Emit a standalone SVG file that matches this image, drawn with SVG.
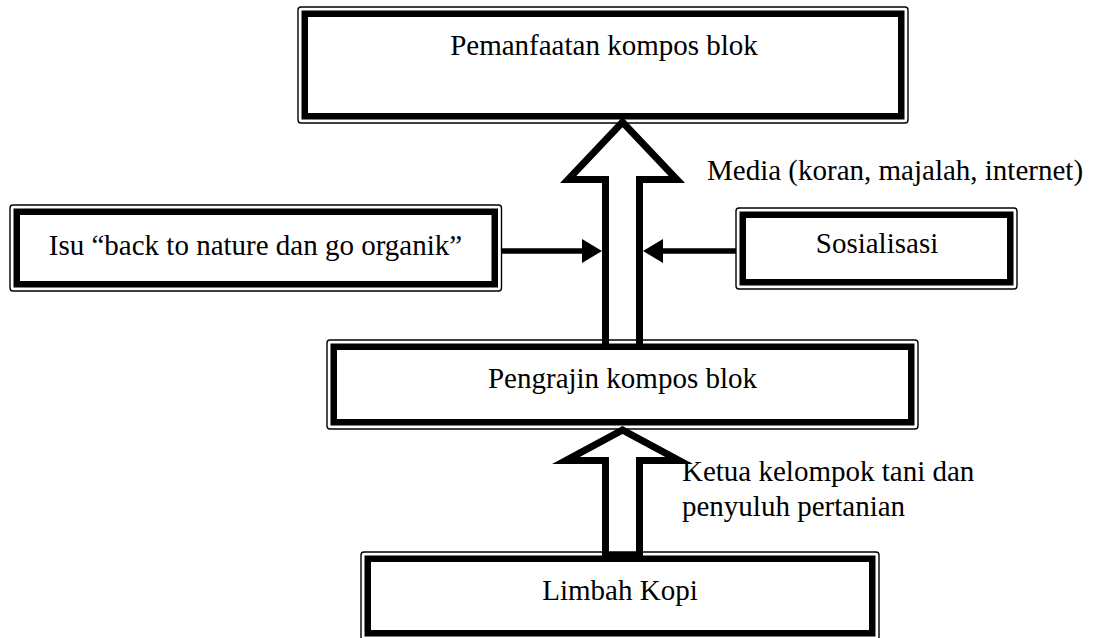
<svg xmlns="http://www.w3.org/2000/svg" width="1096" height="638" viewBox="0 0 1096 638">
<style>
  .outer { fill: #ffffff; stroke: #000000; stroke-width: 1.4; }
  .inner { fill: none; stroke: #000000; stroke-width: 6.5; }
  .lbl { font-family: "Liberation Serif", "Times New Roman", serif; font-size: 29px; fill: #000000; }
  .mid { text-anchor: middle; }
  .line { stroke: #000000; stroke-width: 5.5; fill: none; }
  .head { fill: #000000; }
  .big { fill: #000000; fill-rule: evenodd; }
</style>
<rect x="0" y="0" width="1096" height="638" fill="#ffffff"/>

<g id="node-pemanfaatan">
  <rect class="outer" x="298" y="7" width="610" height="116" rx="3"/>
  <rect class="inner" x="304.75" y="13.75" width="596.5" height="102.5"/>
  <text class="lbl mid" x="604" y="55">Pemanfaatan kompos blok</text>
</g>

<g id="node-isu">
  <rect class="outer" x="10" y="205" width="491.5" height="86" rx="3"/>
  <rect class="inner" x="16.75" y="211.75" width="478" height="72.5"/>
  <text class="lbl mid" x="255.5" y="255">Isu “back to nature dan go organik”</text>
</g>

<g id="node-sosialisasi">
  <rect class="outer" x="736" y="208" width="281" height="81" rx="3"/>
  <rect class="inner" x="742.75" y="214.75" width="267.5" height="67.5"/>
  <text class="lbl mid" x="877" y="253">Sosialisasi</text>
</g>

<g id="node-pengrajin">
  <rect class="outer" x="327" y="340" width="591" height="89" rx="3"/>
  <rect class="inner" x="333.75" y="346.75" width="577.5" height="75.5"/>
  <text class="lbl mid" x="622.5" y="388">Pengrajin kompos blok</text>
</g>

<g id="node-limbah">
  <rect class="outer" x="361" y="552" width="518" height="88" rx="3"/>
  <rect class="inner" x="367.75" y="558.75" width="504.5" height="74.5"/>
  <text class="lbl mid" x="620" y="600">Limbah Kopi</text>
</g>

<g id="connectors">
  <path class="big" d="M622.5,117 L685,183 L643,183 L643,345 L602,345 L602,183 L560,183 Z M622.5,127.2 L576.3,176 L609,176 L609,345 L636,345 L636,176 L668.7,176 Z"/>
  <path class="big" d="M622.5,426 L693,464 L643,464 L643,558 L602,558 L602,464 L552,464 Z M622.5,434 L579.8,457 L609,457 L609,552 L636,552 L636,457 L665.2,457 Z"/>
  <line class="line" x1="501.5" y1="251" x2="584" y2="251"/>
  <polygon class="head" points="602,251 582,239 582,263"/>
  <line class="line" x1="736" y1="251" x2="661" y2="251"/>
  <polygon class="head" points="643,251 663,239 663,263"/>
  <text class="lbl" x="707" y="180">Media (koran, majalah, internet)</text>
  <text class="lbl" x="682" y="481">Ketua kelompok tani dan</text>
  <text class="lbl" x="682" y="516">penyuluh pertanian</text>
</g>
</svg>
